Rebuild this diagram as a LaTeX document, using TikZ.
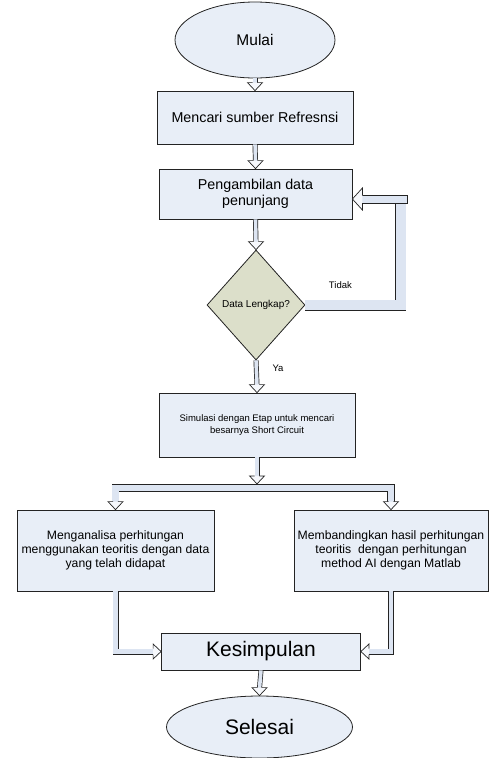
\documentclass[tikz,border=0pt]{standalone}
\usepackage{fontspec}
\setmainfont{Liberation Sans}
\usetikzlibrary{shapes.geometric,calc}
\definecolor{boxfill}{RGB}{232,238,247}
\definecolor{diafill}{RGB}{220,223,202}
\definecolor{bandfill}{RGB}{221,229,242}
\definecolor{headfill}{RGB}{246,248,252}
\definecolor{edge}{RGB}{35,35,35}
\newcommand\fs[2]{\fontsize{#1}{#2}\selectfont}
\newcommand\hdown[1]{\filldraw[headsty] ($#1+(-2.4,-8)$) -- ($#1+(-7.5,-8)$) -- #1 -- ($#1+(7.5,-8)$) -- ($#1+(2.4,-8)$);}
\newcommand\hright[1]{\filldraw[headsty] ($#1+(-8,-3)$) -- ($#1+(-8,-7.5)$) -- #1 -- ($#1+(-8,7.5)$) -- ($#1+(-8,3)$);}
\newcommand\hleft[1]{\filldraw[headsty] ($#1+(8,-3)$) -- ($#1+(8,-7.5)$) -- #1 -- ($#1+(8,7.5)$) -- ($#1+(8,3)$);}
\tikzset{
  box/.style={draw=edge, fill=boxfill, line width=0.8pt, rectangle, inner sep=2pt, align=center},
  term/.style={draw=edge, fill=boxfill, line width=0.8pt, ellipse, inner sep=0pt},
  decision/.style={draw=edge, fill=diafill, line width=0.8pt, diamond, inner sep=0pt},
  band/.style={draw=edge, line width=0.7pt, double=bandfill, double distance=3.6pt, line cap=butt, line join=miter},
  headsty/.style={draw=edge, fill=headfill, line width=0.7pt, line join=miter},
  lbl/.style={font=\fs{9.5}{11}, inner sep=0pt},
}
\begin{document}
\begin{tikzpicture}[x=1pt, y=-1pt]
\useasboundingbox (0,0) rectangle (489,758);
% nodes
\node[term, minimum width=160pt, minimum height=76pt, font=\fs{15.5}{18}] (mulai) at (255,40) {Mulai};
\node[box, minimum width=196pt, minimum height=53pt, font=\fs{14.3}{16.5}] (box1) at (255,117.5) {Mencari sumber Refresnsi};
\node[box, minimum width=193pt, minimum height=50pt, font=\fs{14.3}{16.5}] (box2) at (255.5,194) {Pengambilan data\\penunjang};
\node[decision, minimum width=98pt, minimum height=110pt, font=\fs{10}{12}] (dia) at (256,305) {Data Lengkap?};
\node[box, minimum width=196pt, minimum height=64pt, font=\fs{9.5}{12}] (box3) at (257,425) {Simulasi dengan Etap untuk mencari\\besarnya Short Circuit};
\node[box, minimum width=197pt, minimum height=81pt, font=\fs{12.2}{14}] (boxL) at (115.5,550.5) {Menganalisa perhitungan\\menggunakan teoritis dengan data\\yang telah didapat};
\node[box, minimum width=194pt, minimum height=81pt, font=\fs{12.2}{14}] (boxR) at (391,550.5) {Membandingkan hasil perhitungan\\teoritis \ dengan perhitungan\\method AI dengan Matlab};
\node[box, minimum width=199pt, minimum height=37pt, font=\fs{21}{24}] (kes) at (261,651.5) {Kesimpulan};
\node[term, minimum width=186pt, minimum height=62pt, font=\fs{21}{24}] (sel) at (259.5,727) {Selesai};
\node[lbl] (tidak) at ($(dia.east)+(35,-20)$) {Tidak};
\node[lbl] (ya) at ($(dia.south)+(22,8)$) {Ya};
% straight arrows
\draw[band] (mulai.south) -- ($(box1.north)+(0,-7.5)$); \hdown{(box1.north)}
\draw[band] (box1.south) -- ($(box2.north)+(0,-7.5)$); \hdown{(box2.north)}
\draw[band] (box2.south) -- ($(dia.north)+(0,-7.5)$); \hdown{(dia.north)}
\draw[band] (dia.south) -- ($(box3.north)+(0,-7.5)$); \hdown{(box3.north)}
\draw[band] (kes.south) -- ($(sel.north)+(0,-7.5)$); \hdown{(sel.north)}
% feedback loop
\coordinate (fbtip) at ($(box2.east)+(0,5)$);
\draw[band, double distance=9.6pt] (dia.east) -| ($(fbtip)+(48.5,4)$);
\filldraw[draw=edge, fill=bandfill, line width=0.7pt] ($(fbtip)+(6,-4)$) rectangle ($(fbtip)+(55,4)$);
\filldraw[headsty] ($(fbtip)+(10,-4)$) -- ($(fbtip)+(10,-11)$) -- (fbtip) -- ($(fbtip)+(10,11)$) -- ($(fbtip)+(10,4)$);
% split
\coordinate (sp) at ($(box3.south)+(0,30.5)$);
\draw[band, double distance=6.2pt] ($(boxL.north)+(0,-7.5)$) -- (boxL.north |- sp) -- (boxR.north |- sp) -- ($(boxR.north)+(0,-7.5)$);
\hdown{(boxL.north)} \hdown{(boxR.north)}
\draw[band] (box3.south) -- ($(sp)+(0,-11.5)$); \hdown{($(sp)+(0,-4)$)}
% merge
\draw[band, double distance=4.6pt] (boxL.south) |- ($(kes.west)+(-7.5,0)$); \hright{(kes.west)}
\draw[band, double distance=4.6pt] (boxR.south) |- ($(kes.east)+(7.5,0)$); \hleft{(kes.east)}
\end{tikzpicture}
\end{document}
